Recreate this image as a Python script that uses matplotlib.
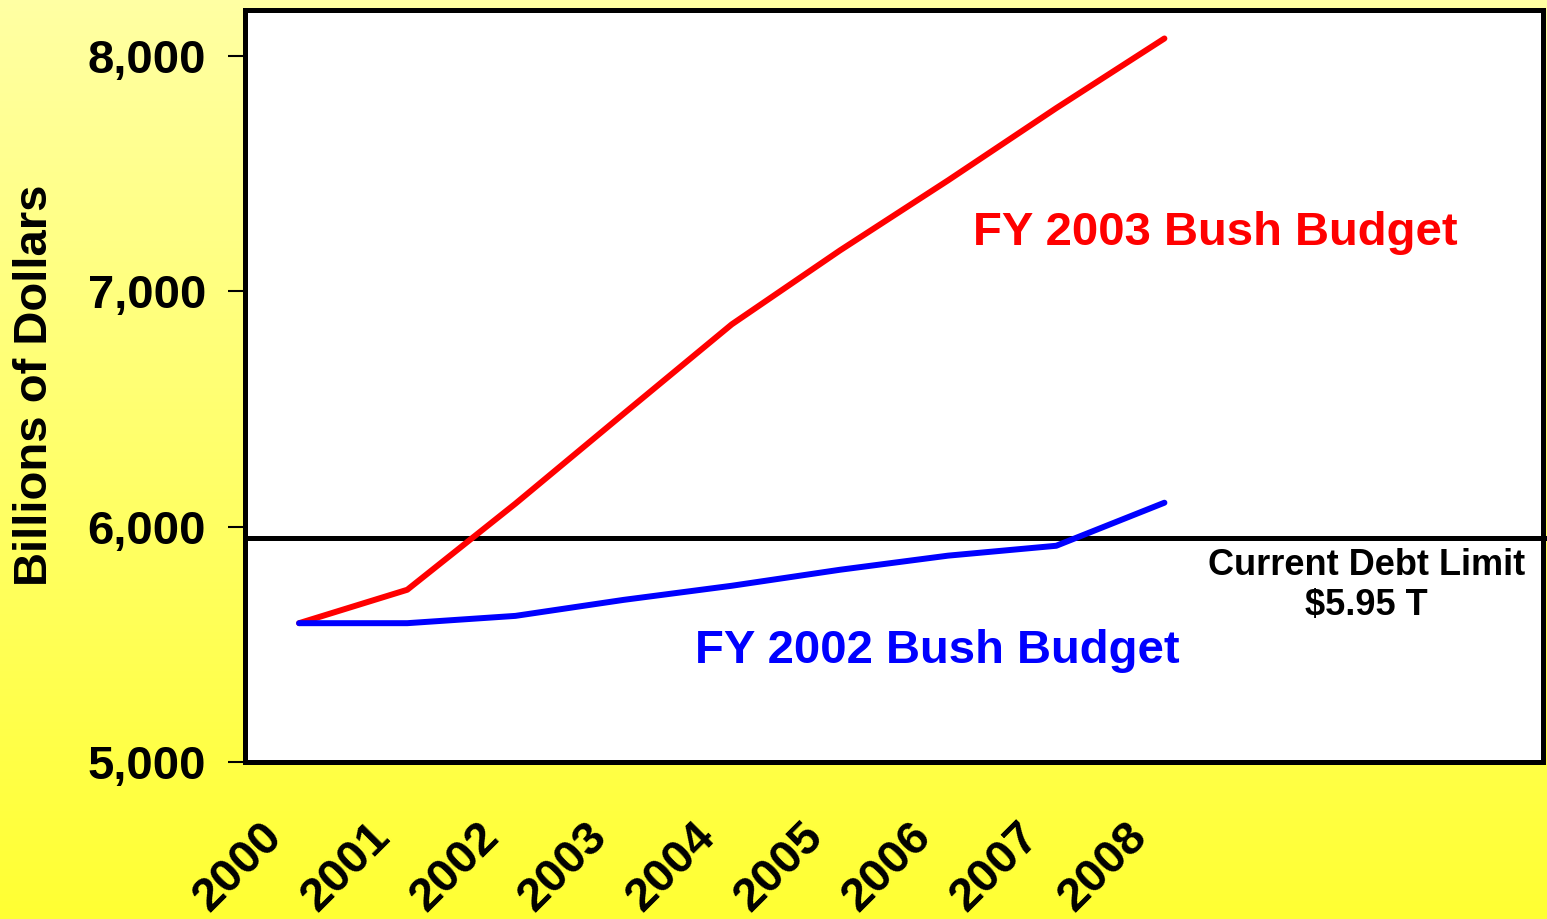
import numpy as np
import matplotlib
matplotlib.use("Agg")
import matplotlib.pyplot as plt
import matplotlib.transforms as mtransforms
from matplotlib.colors import LinearSegmentedColormap

# Federal debt subject to limit, billions of dollars
years = ["2000", "2001", "2002", "2003", "2004", "2005", "2006", "2007", "2008"]
fy2003_budget = [5590, 5732, 6098, 6480, 6860, 7174, 7472, 7779, 8075]
fy2002_budget = [5590, 5590, 5621, 5689, 5749, 5817, 5877, 5919, 6102]
debt_limit = 5950
y_ticks = [5000, 6000, 7000, 8000]
y_tick_labels = ["5,000", "6,000", "7,000", "8,000"]

FONT = ["Liberation Sans", "DejaVu Sans"]
plt.rcParams["font.family"] = FONT
plt.rcParams["font.weight"] = "bold"

W, H = 1547, 919
fig = plt.figure(figsize=(W / 100, H / 100), dpi=100)

# Yellow vertical gradient background
bg = fig.add_axes([0, 0, 1, 1], zorder=-10)
grad = np.linspace(0, 1, 256).reshape(-1, 1)
cmap = LinearSegmentedColormap.from_list("yel", ["#FFFFA3", "#FFFF33"])
bg.imshow(grad, aspect="auto", cmap=cmap, extent=[0, 1, 0, 1], origin="upper")
bg.set_axis_off()

left, right, top, bottom = 245, 1543, 10, 762
ax = fig.add_axes([left / W, 1 - bottom / H, (right - left) / W, (bottom - top) / H])
ax.set_facecolor("white")

x = np.arange(len(years))
ax.plot(x, fy2003_budget, color="#FF0000", lw=4.3, solid_capstyle="round",
        solid_joinstyle="round", zorder=3)
ax.plot(x, fy2002_budget, color="#0000FF", lw=4.3, solid_capstyle="round",
        solid_joinstyle="round", zorder=3)
ax.axhline(debt_limit, color="black", lw=3.6, zorder=2, clip_on=False,
           xmin=0, xmax=1.004)

ax.set_xlim(-0.5, 11.5)
ax.set_ylim(5000, 8196)

for s in ax.spines.values():
    s.set_linewidth(3.6)
    s.set_color("black")

ax.set_yticks(y_ticks)
ax.set_yticklabels(y_tick_labels, fontsize=34, fontweight="bold")
ax.tick_params(axis="y", length=12, width=1.5, pad=16, direction="out")

ax.set_xticks(x)
ax.set_xticklabels(years, fontsize=34, fontweight="bold", rotation=45, ha="right")
ax.tick_params(axis="x", length=0, pad=38)
offset = mtransforms.ScaledTranslation(-8 / 100, 0, fig.dpi_scale_trans)
for lbl in ax.get_xticklabels():
    lbl.set_transform(lbl.get_transform() + offset)

fig.text(35 / W, 1 - 385 / H, "Billions of Dollars", rotation=90, fontsize=34,
         fontweight="bold", ha="center", va="center")

ax.text(8.47, 7250, "FY 2003 Bush Budget", color="#FF0000", fontsize=34,
        fontweight="bold", ha="center", va="center")
ax.text(5.9, 5470, "FY 2002 Bush Budget", color="#0000FF", fontsize=34,
        fontweight="bold", ha="center", va="center")
ax.text(9.87, 5750, "Current Debt Limit\n$5.95 T", color="black", fontsize=26,
        fontweight="bold", ha="center", va="center", linespacing=1.2)

fig.savefig("out.png", dpi=100)
